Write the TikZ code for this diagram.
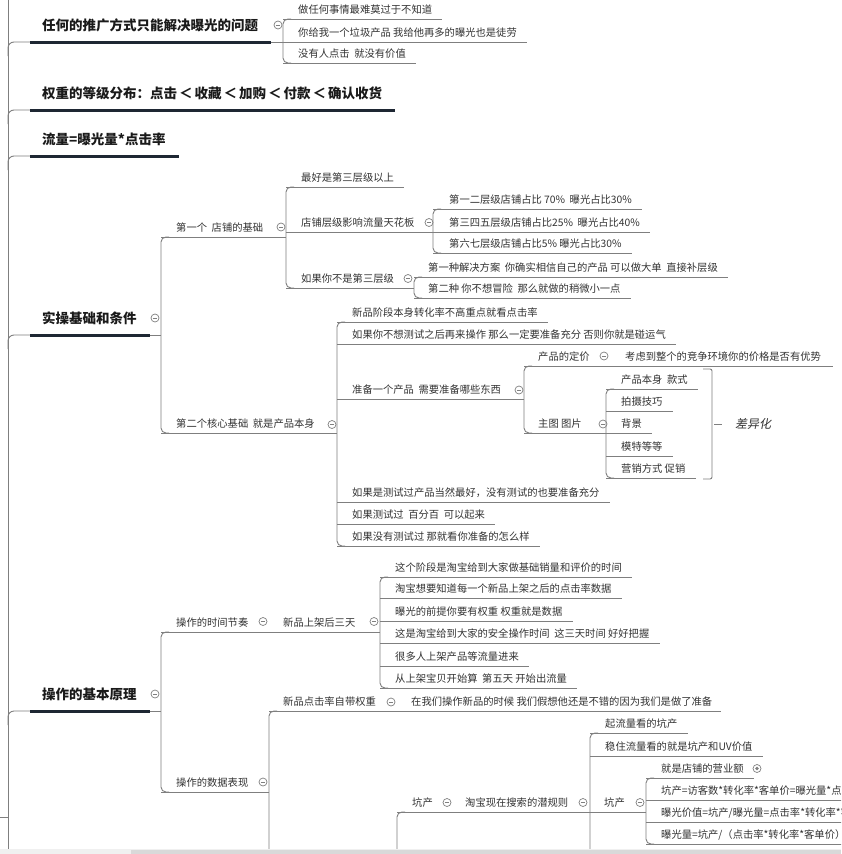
\documentclass[tikz,border=0pt]{standalone}
\usepackage{fontspec}
\setmainfont{Noto Sans CJK SC}
\newfontfamily\mmit[FakeSlant=0.2]{Noto Sans CJK SC}
\usetikzlibrary{calc}
\definecolor{lineg}{HTML}{7F7F7F}
\definecolor{headline}{HTML}{1E2733}
\definecolor{txtc}{HTML}{333333}
\definecolor{headc}{HTML}{1A1A1A}
\tikzset{
 ln/.style={draw=lineg, line width=0.9pt},
 hl/.style={draw=headline, line width=3pt},
 txt/.style={anchor=west, inner sep=0pt, text=txtc, font=\fontsize{10.3}{12}\selectfont, text height=9.06pt, text depth=1.24pt},
 head/.style={anchor=west, inner sep=0pt, text=headc, font=\fontsize{13.5}{16}\selectfont\bfseries, text height=11.9pt, text depth=1.6pt},
 btn/.style={circle, draw=lineg, fill=white, line width=0.7pt, minimum size=8pt, inner sep=0pt,
   path picture={\draw[lineg, line width=0.7pt] ([xshift=-2.2pt]path picture bounding box.center) -- ([xshift=2.2pt]path picture bounding box.center);}},
 btndot/.style={circle, draw=lineg, fill=white, line width=0.7pt, minimum size=8pt, inner sep=0pt,
   path picture={\fill[lineg] (path picture bounding box.center) circle (1.8pt);}},
}
\newcommand\mmlt{\hspace{2pt}＜\hspace{2pt}}
% leaf: name, bracket x, underline y, text
\newcommand\mmleaf[4]{%
 \node[txt] (#1) at (#2+15,#3-9.5) {#4};
 \draw[ln] (#2,#3) -- ($(#1.east |- 0,#3)+(10,0)$);}
% bracket: x, top, bottom
\newcommand\mmbr[3]{\draw[ln, rounded corners=5pt] (#1+8,#2) -- (#1,#2) -- (#1,#3) -- (#1+8,#3);}
% heading: name, underline y, text
\newcommand\mmhead[3]{%
 \node[head] (#1) at (42,#2-17) {#3};
 \draw[ln, rounded corners=6pt] (8,#2+14) -- (8,#2) -- (30,#2);
 \draw[hl] (30,#2) -- ($(#1.east |- 0,#2)+(13,0)$);}
\begin{document}
\begin{tikzpicture}[x=1pt,y=-1pt]
\useasboundingbox (0,0) rectangle (841,854);
\clip (0,0) rectangle (841,854);
\fill[white] (0,0) rectangle (841,854);
% trunk
\draw[ln] (8,-5) -- (8,860);
\draw[ln] (0,817) -- (8,817);

% ---------- heading 1
\mmhead{h1}{42}{任何的推广方式只能解决曝光的问题}
\draw[ln] ($(h1.east |- 0,42)+(13,0)$) -- (283,42);
\node[btn] (b1) at (278,25) {};
\mmbr{283}{19}{63}
\mmleaf{a1}{283}{19}{做任何事情最难莫过于不知道}
\mmleaf{a2}{283}{42}{你给我一个垃圾产品 我给他再多的曝光也是徒劳}
\mmleaf{a3}{283}{63}{没有人点击\ \ 就没有价值}

% ---------- heading 2, 3
\mmhead{h2}{110}{权重的等级分布：点击\mmlt 收藏\mmlt 加购\mmlt 付款\mmlt 确认收货}
\mmhead{h3}{156}{流量=曝光量*点击率}

% ---------- heading 4
\mmhead{h4}{335}{实操基础和条件}
\draw[ln] ($(h4.east |- 0,335)+(13,0)$) -- (161,335);
\node[btn] (b4) at (155,318) {};
\mmbr{161}{237}{433}
% first child
\node[txt] (c1) at (176,227.5) {第一个\ \ 店铺的基础};
\node[btn] (bc1) at (281,227) {};
\draw[ln] (161,237) -- (286,237);
\mmbr{286}{187}{288}
\mmleaf{d1}{286}{187}{最好是第三层级以上}
\node[txt] (d2) at (301,222.5) {店铺层级影响流量天花板};
\node[btn] (bd2) at (429,222.5) {};
\draw[ln] (286,232) -- (433,232);
\mmbr{433}{209}{253}
\node[txt] (e1) at (449,199.5) {第一二层级店铺占比 70\%\ \ 曝光占比30\%};
\draw[ln] (433,209) -- ($(e1.east |- 0,209)+(10,0)$);
\node[txt] (e2) at (449,222.5) {第三四五层级店铺占比25\%\ \ 曝光占比40\%};
\draw[ln] (433,232) -- ($(e2.east |- 0,232)+(10,0)$);
\node[txt] (e3) at (449,243.5) {第六七层级店铺占比5\% 曝光占比30\%};
\draw[ln] (433,253) -- ($(e3.east |- 0,253)+(10,0)$);
\node[txt] (d3) at (301,278.5) {如果你不是第三层级};
\node[btn] (bd3) at (408,278.5) {};
\draw[ln] (286,288) -- (414,288);
\mmbr{414}{277}{298}
\node[txt] (f1) at (428,267.5) {第一种解决方案\ \ 你确实相信自己的产品 可以做大单\ \ 直接补层级};
\draw[ln] (414,277) -- ($(f1.east |- 0,277)+(10,0)$);
\node[txt] (f2) at (428,288.5) {第二种 你不想冒险\ \ 那么就做的稍微小一点};
\draw[ln] (414,298) -- ($(f2.east |- 0,298)+(10,0)$);
% second child
\node[txt] (c2) at (176,424) {第二个核心基础\ \ 就是产品本身};
\node[btn] (bc2) at (332,424.5) {};
\draw[ln] (161,433) -- (337,433);
\mmbr{337}{322}{546}
\mmleaf{g1}{337}{322}{新品阶段本身转化率不高重点就看点击率}
\mmleaf{g2}{337}{344}{如果你不想测试之后再来操作 那么一定要准备充分 否则你就是碰运气}
\node[txt] (g3) at (352,389.5) {准备一个产品\ \ 需要准备哪些东西};
\node[btn] (bg3) at (519,390) {};
\draw[ln] (337,399) -- (524,399);
\mmleaf{g4}{337}{502}{如果是测试过产品当然最好，没有测试的也要准备充分}
\mmleaf{g5}{337}{524}{如果测试过\ \ 百分百\ \ 可以起来}
\mmleaf{g6}{337}{546}{如果没有测试过 那就看你准备的怎么样}
% prepare product children
\mmbr{524}{366}{433}
\node[txt] (p1) at (538,356.5) {产品的定价};
\node[btn] (bp1) at (604,356) {};
\node[txt] (p1a) at (625,356.5) {考虑到整个的竞争环境你的价格是否有优势};
\draw[ln] (524,366) -- ($(p1a.east |- 0,366)+(12,0)$);
\node[txt] (p2) at (538,423.5) {主图 图片};
\node[btn] (bp2) at (603,424) {};
\draw[ln] (524,433) -- (606,433);
\mmbr{606}{389}{478}
\mmleaf{q1}{606}{389}{产品本身\ \ 款式}
\mmleaf{q2}{606}{411}{拍摄技巧}
\mmleaf{q3}{606}{433}{背景}
\mmleaf{q4}{606}{456}{模特等等}
\mmleaf{q5}{606}{478}{营销方式 促销}
% summary
\draw[ln, rounded corners=2pt] (703,369) -- (712,369) -- (712,479) -- (703,479);
\draw[ln] (714,424) -- (722,424);
\node[txt, font=\fontsize{12}{14}\mmit, text height=10.5pt, text depth=1.5pt] (dif) at (735,424) {差异化};

% ---------- heading 5
\mmhead{h5}{711}{操作的基本原理}
\draw[ln] ($(h5.east |- 0,711)+(13,0)$) -- (161,711);
\node[btn] (b5) at (155,694) {};
\mmbr{161}{632}{792}
\node[txt] (k1) at (176,622.5) {操作的时间节奏};
\node[btn] (bk1) at (263,621.5) {};
\node[txt] (k1a) at (283,622.5) {新品上架后三天};
\node[btn] (bk1a) at (374,621.5) {};
\draw[ln] (161,632) -- (380,632);
\mmbr{380}{577}{688}
\mmleaf{m1}{380}{577}{这个阶段是淘宝给到大家做基础销量和评价的时间}
\mmleaf{m2}{380}{598}{淘宝想要知道每一个新品上架之后的点击率数据}
\mmleaf{m3}{380}{621}{曝光的前提你要有权重 权重就是数据}
\mmleaf{m4}{380}{643}{这是淘宝给到大家的安全操作时间\ \ 这三天时间 好好把握}
\mmleaf{m5}{380}{666}{很多人上架产品等流量进来}
\mmleaf{m6}{380}{688}{从上架宝贝开始算\ \ 第五天 开始出流量}
% data performance
\node[txt] (k2) at (176,782.5) {操作的数据表现};
\node[btn] (bk2) at (263,782) {};
\draw[ln] (161,792) -- (269,792);
\draw[ln, rounded corners=5pt] (277,711) -- (269,711) -- (269,870);
\node[txt] (n1) at (283,701.5) {新品点击率自带权重};
\node[btn] (bn1) at (391,702) {};
\node[txt] (n1a) at (411,701.5) {在我们操作新品的时候 我们假想他还是不错的因为我们是做了准备};
\draw[ln] (269,711) -- ($(n1a.east |- 0,711)+(9,0)$);
% kengchan branch
\draw[ln, rounded corners=5pt] (405,812) -- (397,812) -- (397,870);
\node[txt] (r1) at (412,802.5) {坑产};
\node[btn] (br1) at (447,802.5) {};
\node[txt] (r2) at (465,802.5) {淘宝现在搜索的潜规则};
\node[btn] (br2) at (583,802.5) {};
\draw[ln] (397,812) -- (646,812);
\draw[ln, rounded corners=5pt] (598,733) -- (590,733) -- (590,870);
\mmleaf{s1}{590}{733}{起流量看的坑产}
\mmleaf{s2}{590}{756}{稳住流量看的就是坑产和UV价值}
\node[txt] (s3) at (604,802.5) {坑产};
\node[btn] (bs3) at (640,802.5) {};
\mmbr{646}{778}{844}
\mmleaf{t1}{646}{778}{就是店铺的营业额}
\node[btndot] (bt1) at (757,768.5) {};
\mmleaf{t2}{646}{800}{坑产=访客数*转化率*客单价=曝光量*点击率*转化率*客单价}
\mmleaf{t3}{646}{822}{曝光价值=坑产/曝光量=点击率*转化率*客单价}
\mmleaf{t4}{646}{844}{曝光量=坑产/（点击率*转化率*客单价）}

% scrollbar strip
\fill[black!6] (0,849) rectangle (841,854);
\fill[black!15] (131,849.5) rectangle (841,854);
\end{tikzpicture}
\end{document}
